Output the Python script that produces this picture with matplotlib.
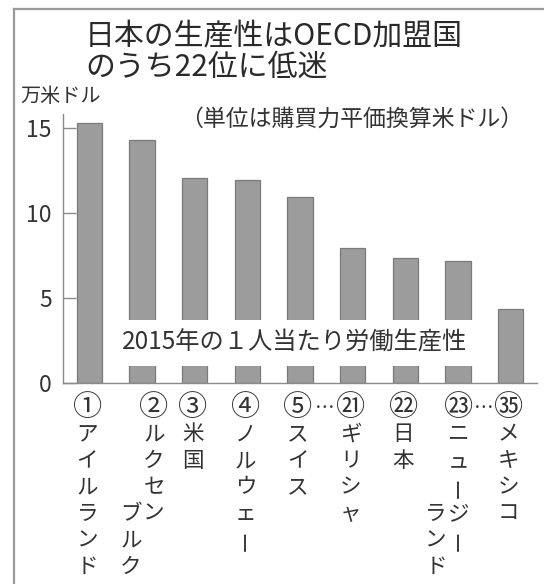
import matplotlib
matplotlib.use("Agg")
import matplotlib.pyplot as plt
from matplotlib.transforms import blended_transform_factory
from matplotlib.patches import Rectangle
from matplotlib.lines import Line2D

plt.rcParams['font.family'] = ['Noto Sans CJK JP', 'DejaVu Sans']

# ---- data ----
ranks = ["①", "②", "③", "④", "⑤", "㉑", "㉒", "㉓", "㉟"]
# each label split into vertical columns (right column first)
label_columns = [
    ["アイルランド"],
    ["ルクセン", "ブルク"],
    ["米国"],
    ["ノルウェー"],
    ["スイス"],
    ["ギリシャ"],
    ["日本"],
    ["ニュージー", "ランド"],
    ["メキシコ"],
]
values = [15.3, 14.25, 12.05, 11.95, 10.95, 7.92, 7.37, 7.18, 4.34]
yticks = [0, 5, 10, 15]
title1 = "日本の生産性はOECD加盟国"
title2 = "のうち22位に低迷"
unit_label = "万米ドル"
note = "（単位は購買力平価換算米ドル）"
inner_label = "2015年の１人当たり労働生産性"

W, H = 544, 584
fig = plt.figure(figsize=(W / 100, H / 100), dpi=100)
fig.patch.set_facecolor("white")

ax_left, ax_right = 63, 537
ax_bottom, ax_top = 383, 114
ax = fig.add_axes([ax_left / W, 1 - ax_bottom / H,
                   (ax_right - ax_left) / W, (ax_bottom - ax_top) / H])
ax.set_facecolor("none")

x = list(range(len(values)))
ax.bar(x, values, width=0.48, color="#9c9c9c", edgecolor="#7a7a7a",
       linewidth=0.9, zorder=2)
ax.set_xlim(-0.5, len(values) - 0.5)
ax.set_ylim(0, 15.8)

# white band with the caption
ax.add_patch(Rectangle((0.5, 1.0), len(values) - 2, 2.7, facecolor="white",
                       edgecolor="none", zorder=3))
ax.text(3.9, 2.35, inner_label, fontsize=17.5, color="#333333",
        ha="center", va="center", zorder=4)

for s in ["top", "right"]:
    ax.spines[s].set_visible(False)
for s in ["left", "bottom"]:
    ax.spines[s].set_color("#8a8a8a")
    ax.spines[s].set_linewidth(1.0)
ax.set_yticks(yticks)
ax.set_yticklabels([str(v) for v in yticks], fontsize=16.5, color="#333333")
ax.tick_params(axis="y", direction="in", length=9, width=1.0,
               color="#8a8a8a", pad=8)
ax.set_xticks([])

# vertical category labels
trans = blended_transform_factory(ax.transData, fig.transFigure)
unit = (ax_right - ax_left) / len(values)
row0, rowh = 408, 26.5
col_dx = {1: [12, -11], 7: [1, -22]}
for i in x:
    dxs = col_dx.get(i, [-2])
    ax.text(i + dxs[0] / unit, 1 - row0 / H, ranks[i], transform=trans,
            ha="center", va="center", fontsize=21, color="#333333",
            clip_on=False)
    for c, col in enumerate(label_columns[i]):
        start = 1 if c == 0 else 4
        for k, ch in enumerate(col):
            y = 1 - (row0 + rowh * (start + k)) / H
            rot = 90 if ch == "ー" else 0
            ax.text(i + dxs[c] / unit, y, ch, transform=trans, ha="center",
                    va="center", fontsize=15.5, color="#333333",
                    rotation=rot, clip_on=False)
# ellipses between skipped ranks
for a, b in [(4, 5), (7, 8)]:
    xa = a + col_dx.get(a, [-2])[0] / unit
    xb = b + col_dx.get(b, [-2])[0] / unit
    ax.text((xa + xb) / 2, 1 - row0 / H, "…", transform=trans, ha="center",
            va="center", fontsize=14, color="#333333", clip_on=False)

# titles and notes
fig.text(85 / W, 1 - 37 / H, title1, fontsize=21.5, color="#2a2a2a",
         ha="left", va="center")
fig.text(85 / W, 1 - 67 / H, title2, fontsize=21.5, color="#2a2a2a",
         ha="left", va="center")
fig.text(20 / W, 1 - 96 / H, unit_label, fontsize=14.5, color="#333333",
         ha="left", va="center")
fig.text(180 / W, 1 - 119 / H, note, fontsize=16.5, color="#333333",
         ha="left", va="center")

# frame
fig.add_artist(Line2D([14 / W, 14 / W], [0, 1 - 9 / H], color="#9a9a9a",
                      linewidth=1.6, transform=fig.transFigure))
fig.add_artist(Line2D([14 / W, 1], [1 - 9 / H, 1 - 9 / H], color="#9a9a9a",
                      linewidth=1.6, transform=fig.transFigure))

fig.savefig("out.png", dpi=100, facecolor="white")
